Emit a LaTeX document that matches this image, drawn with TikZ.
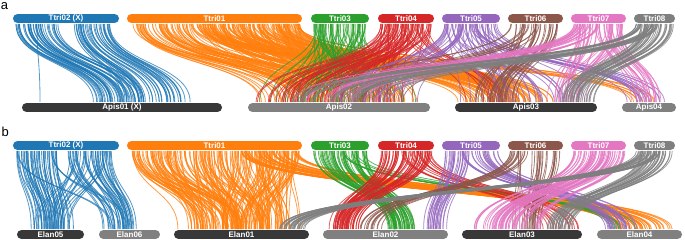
\documentclass[tikz,border=0pt]{standalone}
\usepackage{fontspec}
\setmainfont{Liberation Sans}
\definecolor{cblue}{HTML}{1F77B4}
\definecolor{corange}{HTML}{FF7F0E}
\definecolor{cgreen}{HTML}{2CA02C}
\definecolor{cred}{HTML}{D62728}
\definecolor{cpurple}{HTML}{9467BD}
\definecolor{cbrown}{HTML}{8C564B}
\definecolor{cpink}{HTML}{E377C2}
\definecolor{cgray}{HTML}{7F7F7F}
\definecolor{cdark}{HTML}{383838}
\definecolor{clight}{HTML}{808080}
\tikzset{
  bar/.style={rectangle, rounded corners=4.3pt, minimum height=8.8pt, inner sep=0pt,
    text=white, font=\fontsize{8}{8}\selectfont\bfseries},
  rib/.style={line width=0.8pt, draw opacity=0.75},
  panel/.style={font=\fontsize{13}{13}\selectfont, anchor=base west, inner sep=0pt}
}
% color, n, top x0, top x1, bottom x0, bottom x1, y top, y bottom, mix
\newcommand\rib[9]{%
  \foreach \k in {1,...,#2}{%
    \pgfmathsetmacro\myu{rnd}%
    \pgfmathsetmacro\myr{rnd}%
    \pgfmathsetmacro\xt{#3+(#4-#3)*\myu}%
    \pgfmathsetmacro\xb{#5+(#6-#5)*((1-#9)*\myu+#9*\myr)}%
    \pgfmathsetmacro\ym{(#7+#8)/2}%
    \draw[rib,#1] (\xt,#7) .. controls (\xt,\ym) and (\xb,\ym) .. (\xb,#8);
  }}
\begin{document}
\begin{tikzpicture}[x=1pt,y=-1pt]
\useasboundingbox (0,0) rectangle (685,240);
\pgfmathsetseed{4242}
% ---------- panel a ----------
\def\ta{24}\def\ba{102}
\rib{cblue}{45}{16}{58}{88}{152}{\ta}{\ba}{0.25}
\rib{cblue}{40}{72}{110}{118}{192}{\ta}{\ba}{0.25}
\draw[rib,cblue] (37,\ta) .. controls (37,60) and (40,60) .. (40,\ba);
\rib{corange}{140}{132}{300}{252}{426}{\ta}{\ba}{0.6}
\rib{corange}{90}{190}{300}{456}{560}{\ta}{\ba}{0.5}
\rib{corange}{10}{250}{300}{626}{666}{\ta}{\ba}{0.4}
\rib{cgreen}{75}{313}{367}{252}{425}{\ta}{\ba}{0.7}
\rib{cred}{75}{380}{432}{252}{420}{\ta}{\ba}{0.8}
\rib{cred}{10}{400}{432}{460}{520}{\ta}{\ba}{0.5}
\rib{cpurple}{20}{443}{470}{330}{425}{\ta}{\ba}{0.5}
\rib{cpurple}{30}{445}{498}{456}{596}{\ta}{\ba}{0.6}
\rib{cpurple}{15}{470}{498}{626}{670}{\ta}{\ba}{0.5}
\rib{cbrown}{10}{510}{540}{290}{420}{\ta}{\ba}{0.5}
\rib{cbrown}{30}{510}{561}{460}{522}{\ta}{\ba}{0.5}
\rib{cpink}{25}{573}{600}{290}{400}{\ta}{\ba}{0.5}
\rib{cpink}{30}{575}{624}{540}{596}{\ta}{\ba}{0.5}
\rib{cpink}{20}{595}{624}{628}{670}{\ta}{\ba}{0.5}
\rib{cgray}{30}{636}{660}{280}{400}{\ta}{\ba}{0.3}
\rib{cgray}{35}{640}{674}{555}{598}{\ta}{\ba}{0.4}
% ---------- panel b ----------
\def\tb{151}\def\bb{229}
\rib{cblue}{45}{16}{58}{27}{76}{\tb}{\bb}{0.3}
\rib{cblue}{15}{70}{110}{30}{80}{\tb}{\bb}{0.5}
\rib{cblue}{35}{68}{112}{100}{138}{\tb}{\bb}{0.4}
\rib{cblue}{5}{16}{58}{100}{135}{\tb}{\bb}{0.4}
\rib{corange}{200}{130}{300}{176}{305}{\tb}{\bb}{0.5}
\rib{corange}{45}{240}{300}{610}{678}{\tb}{\bb}{0.3}
\rib{cgreen}{60}{313}{367}{380}{418}{\tb}{\bb}{0.5}
\rib{cgreen}{8}{340}{365}{600}{640}{\tb}{\bb}{0.5}
\rib{cred}{55}{380}{432}{327}{360}{\tb}{\bb}{0.5}
\rib{cred}{15}{400}{432}{540}{582}{\tb}{\bb}{0.5}
\rib{cpurple}{25}{443}{470}{420}{448}{\tb}{\bb}{0.4}
\rib{cpurple}{25}{460}{498}{598}{640}{\tb}{\bb}{0.4}
\rib{cbrown}{15}{510}{530}{355}{390}{\tb}{\bb}{0.4}
\rib{cbrown}{25}{515}{560}{510}{545}{\tb}{\bb}{0.4}
\rib{cpink}{60}{573}{625}{465}{545}{\tb}{\bb}{0.3}
\rib{cgray}{30}{636}{660}{275}{306}{\tb}{\bb}{0.3}
\rib{cgray}{30}{640}{674}{540}{580}{\tb}{\bb}{0.4}
% ---------- bars ----------
\foreach \yy/\s in {18.5/a,145.5/b}{
  \node[bar,fill=cblue,minimum width=106pt] (ttri02\s) at (66,\yy) {Ttri02 (X)};
  \node[bar,fill=corange,minimum width=175pt] (ttri01\s) at (214.5,\yy) {Ttri01};
  \node[bar,fill=cgreen,minimum width=58pt] (ttri03\s) at (340,\yy) {Ttri03};
  \node[bar,fill=cred,minimum width=56pt] (ttri04\s) at (406,\yy) {Ttri04};
  \node[bar,fill=cpurple,minimum width=58pt] (ttri05\s) at (471,\yy) {Ttri05};
  \node[bar,fill=cbrown,minimum width=55pt] (ttri06\s) at (535.5,\yy) {Ttri06};
  \node[bar,fill=cpink,minimum width=55pt] (ttri07\s) at (598.5,\yy) {Ttri07};
  \node[bar,fill=cgray,minimum width=41pt] (ttri08\s) at (654.5,\yy) {Ttri08};
}
\node[bar,fill=cdark,minimum width=200pt] (apis01) at (122,107.5) {Apis01 (X)};
\node[bar,fill=clight,minimum width=182pt] (apis02) at (339,107.5) {Apis02};
\node[bar,fill=cdark,minimum width=142pt] (apis03) at (526,107.5) {Apis03};
\node[bar,fill=clight,minimum width=54pt] (apis04) at (649,107.5) {Apis04};
\node[bar,fill=cdark,minimum width=67pt] (elan05) at (50.5,234.5) {Elan05};
\node[bar,fill=clight,minimum width=61pt] (elan06) at (129.5,234.5) {Elan06};
\node[bar,fill=cdark,minimum width=135pt] (elan01) at (241.5,234.5) {Elan01};
\node[bar,fill=clight,minimum width=125pt] (elan02) at (385.5,234.5) {Elan02};
\node[bar,fill=cdark,minimum width=120pt] (elan03) at (522,234.5) {Elan03};
\node[bar,fill=clight,minimum width=85pt] (elan04) at (639.5,234.5) {Elan04};
\node[panel] (la) at (0.8,9.5) {a};
\node[panel] (lb) at (1.5,136.7) {b};
\end{tikzpicture}
\end{document}
